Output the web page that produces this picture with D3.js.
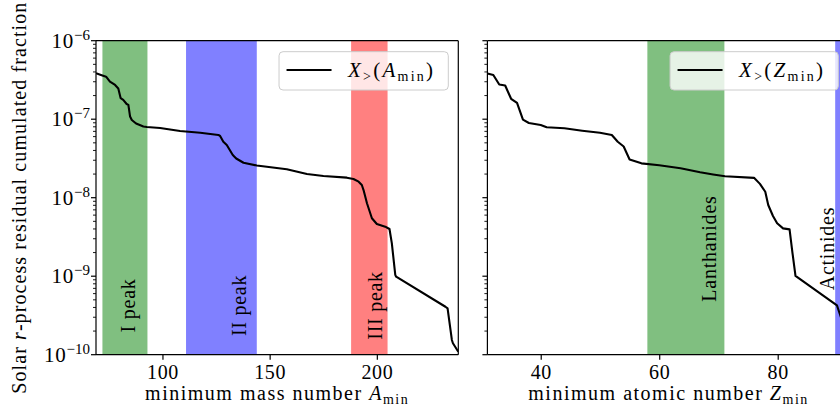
<!DOCTYPE html>
<html><head><meta charset="utf-8">
<script src="https://cdn.jsdelivr.net/npm/d3@7"></script>
<style>
body{margin:0;background:#fff}
svg{display:block}
text{font-family:"Liberation Serif","DejaVu Serif",serif;fill:#000}
</style>
</head><body>
<svg id="c" width="840" height="413"></svg>
<script>
// ---------- data ----------
const massNumber = [69.0, 71.3, 73.7, 75.5, 77.9, 79.4, 80.5, 81.7, 83.3, 84.1, 84.9, 85.7, 87.7, 91.1, 92.7,
  98.9, 108.2, 117.6, 126.1, 126.9, 128.4, 130.0, 132.8, 134.4, 137.8, 144.0, 158.0, 167.4, 175.1,
  186.0, 189.1, 191.5, 193.0, 193.8, 195.4, 197.7, 200.0, 203.9, 205.9, 207.0, 208.6, 209, 232, 233, 235, 235.5, 238];
const fractionA = [3.85e-7, 3.66e-7, 3.48e-7, 3.01e-7, 2.73e-7, 2.46e-7, 1.85e-7, 1.76e-7, 1.56e-7, 1.52e-7, 1.08e-7, 9.77e-8, 8.81e-8, 8.07e-8, 7.96e-8,
  7.73e-8, 7.08e-8, 6.73e-8, 6.30e-8, 6.11e-8, 5.16e-8, 4.69e-8, 3.50e-8, 3.16e-8, 2.79e-8, 2.57e-8, 2.30e-8, 2.00e-8, 1.89e-8,
  1.80e-8, 1.73e-8, 1.60e-8, 1.45e-8, 1.25e-8, 8.49e-9, 5.47e-9, 4.62e-9, 4.28e-9, 3.99e-9, 2.62e-9, 1.04e-9, 9.86e-10, 4.08e-10, 3.90e-10, 1.54e-10, 1.40e-10, 1.09e-10];

const atomicNumber = [31, 32, 33, 34, 35, 36, 37, 38, 39, 40, 41, 44, 47, 50, 52, 53, 54, 55, 57, 60, 63.6, 66.9, 69.1, 71.1,
  76, 77, 77.9, 78.4, 79.2, 79.9, 80.9, 82, 82.5, 83, 90, 92];
const fractionZ = [3.82e-7, 3.66e-7, 2.77e-7, 2.69e-7, 1.82e-7, 1.61e-7, 9.86e-8, 8.95e-8, 8.69e-8, 8.43e-8, 7.89e-8, 7.66e-8, 7.14e-8, 6.73e-8, 6.30e-8, 5.16e-8, 4.49e-8, 3.07e-8, 2.74e-8, 2.59e-8, 2.37e-8, 2.11e-8, 1.98e-8, 1.88e-8,
  1.79e-8, 1.50e-8, 1.19e-8, 8.07e-9, 5.85e-9, 4.72e-9, 4.07e-9, 3.95e-9, 1.96e-9, 1.01e-9, 4.24e-10, 1.51e-10];

const yTickValues = [1e-10, 1e-9, 1e-8, 1e-7, 1e-6];
const yTickExponents = ["−10", "−9", "−8", "−7", "−6"];
const massTicks = [100, 150, 200];
const atomicTicks = [40, 60, 80];

const massBandRanges = [[72, 93], [111, 144], [188, 205]];
const massBandLabels = ["I peak", "II peak", "III peak"];
const massBandLabelAt = [[83.8, 4.24e-10], [135.8, 4.24e-10], [199.3, 4.24e-10]];
const atomicBandRanges = [[58, 71], [89.7, 103]];
const atomicBandLabels = ["Lanthanides", "Actinides"];
const atomicBandLabelAt = [[68.4, 2.25e-9], [88.4, 2.25e-9]];

// ---------- styles ----------
const massBandColors = ["#80bf80", "#8080ff", "#ff8080"];
const atomicBandColors = ["#80bf80", "#8080ff"];

const svg = d3.select("#c");
const yTop = 40.7, yBot = 354.7;
const y = d3.scaleLog().domain([1e-10, 1e-6]).range([yBot, yTop]);

// widen a text to a target length with letter spacing (Computer Modern is wider than Times)
function spreadTo(sel, target) {
  const n = sel.text().length;
  const w = sel.node().getBBox().width;
  if (w < target && n > 1) sel.attr("letter-spacing", (target - w) / (n - 1));
}

const panels = [
  {x0: 96, x1: 458.3, domain: [69, 238], xs: massNumber, ys: fractionA, ticks: massTicks,
   bands: massBandRanges, bandColors: massBandColors, labels: massBandLabels, labelAt: massBandLabelAt,
   xlabel: ["minimum mass number ", "A"], xlabelW: 262.6, legendSym: "A", legendW: 86, yLabels: true},
  {x0: 487.4, x1: 849.7, domain: [31, 92.15], xs: atomicNumber, ys: fractionZ, ticks: atomicTicks,
   bands: atomicBandRanges, bandColors: atomicBandColors, labels: atomicBandLabels, labelAt: atomicBandLabelAt,
   xlabel: ["minimum atomic number ", "Z"], xlabelW: 279, legendSym: "Z", legendW: 85, yLabels: false}
];

panels.forEach((p, pi) => {
  const x = d3.scaleLinear().domain(p.domain).range([p.x0, p.x1]);
  const g = svg.append("g");
  const clipId = "clip" + pi;
  svg.append("clipPath").attr("id", clipId).append("rect")
    .attr("x", p.x0).attr("y", yTop).attr("width", p.x1 - p.x0).attr("height", yBot - yTop);
  const plot = g.append("g").attr("clip-path", `url(#${clipId})`);

  // bands
  plot.selectAll("rect.band").data(p.bands).join("rect").attr("class", "band")
    .attr("x", d => x(d[0])).attr("width", d => x(d[1]) - x(d[0]))
    .attr("y", yTop).attr("height", yBot - yTop)
    .attr("fill", (d, i) => p.bandColors[i]);

  // line
  const pts = p.xs.map((v, i) => [v, p.ys[i]]);
  plot.append("path").datum(pts)
    .attr("d", d3.line().x(d => x(d[0])).y(d => y(d[1])))
    .attr("fill", "none").attr("stroke", "#000").attr("stroke-width", 2.1)
    .attr("stroke-linejoin", "round");

  // band labels
  p.labels.forEach((t, i) => {
    const [lx, ly] = p.labelAt[i];
    const lt = g.append("text").attr("transform", `translate(${x(lx)},${y(ly)}) rotate(-90)`)
      .attr("text-anchor", "middle").attr("dominant-baseline", "central")
      .attr("font-size", 20).text(t);
    spreadTo(lt, lt.node().getBBox().width * 1.08);
  });

  // spines
  const sp = g.append("g").attr("stroke", "#000").attr("stroke-width", 1.2);
  sp.append("line").attr("x1", p.x0).attr("x2", p.x0).attr("y1", yTop).attr("y2", yBot);
  sp.append("line").attr("x1", p.x1).attr("x2", p.x1).attr("y1", yTop).attr("y2", yBot);
  sp.append("line").attr("x1", p.x0).attr("x2", p.x1).attr("y1", yTop).attr("y2", yTop);
  sp.append("line").attr("x1", p.x0).attr("x2", p.x1).attr("y1", yBot).attr("y2", yBot);

  // x axis
  const xa = g.append("g").attr("transform", `translate(0,${yBot})`)
    .call(d3.axisBottom(x).tickValues(p.ticks).tickSize(5).tickPadding(5).tickFormat(d3.format("d")));
  xa.attr("font-family", null).attr("font-size", null);
  xa.select(".domain").remove();
  xa.selectAll("line").attr("stroke-width", 1.2);
  xa.selectAll("text").attr("font-size", 20).attr("letter-spacing", 0.6);

  // y axis ticks (major + minor)
  const minor = [];
  for (let e = -10; e < -6; e++) for (let m = 2; m <= 9; m++) minor.push(m * Math.pow(10, e));
  const ya = g.append("g").attr("stroke", "#000");
  ya.selectAll("line.maj").data(yTickValues).join("line").attr("class", "maj")
    .attr("x1", p.x0 - 5).attr("x2", p.x0).attr("y1", d => y(d)).attr("y2", d => y(d)).attr("stroke-width", 1.2);
  ya.selectAll("line.min").data(minor).join("line").attr("class", "min")
    .attr("x1", p.x0 - 3).attr("x2", p.x0).attr("y1", d => y(d)).attr("y2", d => y(d)).attr("stroke-width", 0.9);
  if (p.yLabels) {
    yTickValues.forEach((v, i) => {
      const t = g.append("text").attr("x", p.x0 - 6).attr("y", y(v) + 7).attr("text-anchor", "end").attr("font-size", 21);
      t.append("tspan").attr("letter-spacing", 0.8).text("10");
      t.append("tspan").attr("dy", -8).attr("font-size", 15).text(yTickExponents[i]);
    });
  }

  // x label
  const xl = g.append("text").attr("x", (p.x0 + p.x1) / 2).attr("y", 400).attr("text-anchor", "middle").attr("font-size", 20);
  xl.append("tspan").text(p.xlabel[0]);
  xl.append("tspan").attr("font-style", "italic").text(p.xlabel[1]);
  xl.append("tspan").attr("font-size", 14).attr("dy", 4).text("min");
  spreadTo(xl, p.xlabelW);

  // legend
  const lg = g.append("g");
  const lt = lg.append("text").attr("font-size", 21).attr("y", 77);
  lt.append("tspan").attr("font-style", "italic").text("X");
  lt.append("tspan").attr("font-size", 14).attr("dy", 4).text(">");
  lt.append("tspan").attr("dy", -4).text("(");
  lt.append("tspan").attr("font-style", "italic").text(p.legendSym);
  lt.append("tspan").attr("font-size", 14).attr("dy", 4).text("min");
  lt.append("tspan").attr("dy", -4).text(")");
  spreadTo(lt, p.legendW);
  const tw = lt.node().getBBox().width;
  const boxRight = Math.min(p.x1 - 10, 838.3);
  const boxW = 69 + tw + 12;
  const boxL = boxRight - boxW;
  lg.insert("rect", "text").attr("x", boxL).attr("y", 51.7).attr("width", boxW).attr("height", 38.3)
    .attr("rx", 4).attr("fill", "#fff").attr("fill-opacity", 0.8).attr("stroke", "#cccccc").attr("stroke-width", 1);
  lg.append("line").attr("x1", boxL + 7.5).attr("x2", boxL + 52.5).attr("y1", 70).attr("y2", 70)
    .attr("stroke", "#000").attr("stroke-width", 2.1);
  lt.attr("x", boxL + 69);
});

// y label
const yl = svg.append("text").attr("transform", `translate(26,${(yTop + yBot) / 2}) rotate(-90)`)
  .attr("text-anchor", "middle").attr("font-size", 20);
yl.append("tspan").text("Solar ");
yl.append("tspan").attr("font-style", "italic").text("r");
yl.append("tspan").text("-process residual cumulated fraction");
spreadTo(yl, 391);
</script>
</body></html>
